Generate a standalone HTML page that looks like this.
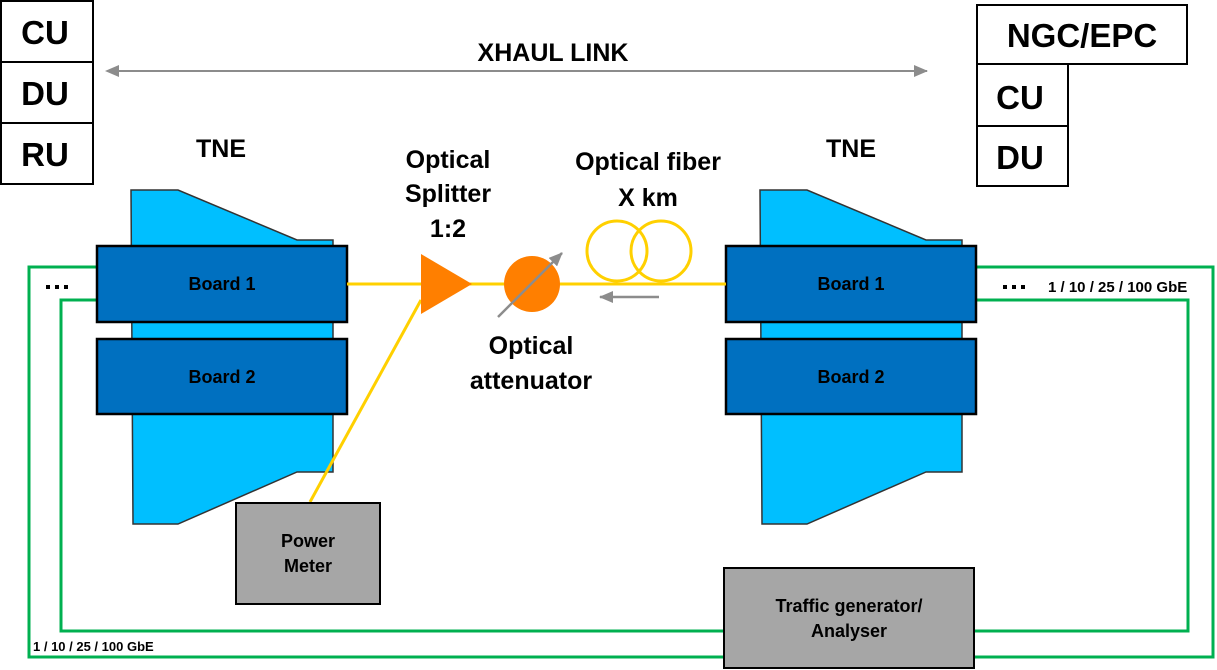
<!DOCTYPE html>
<html><head><style>body{margin:0;background:#fff}svg{display:block}text{font-family:"Liberation Sans",Arial,sans-serif;font-weight:bold;fill:#000}</style></head>
<body>
<svg width="1217" height="670" viewBox="0 0 1217 670" xmlns="http://www.w3.org/2000/svg">
<defs><marker id="ah" markerWidth="14" markerHeight="12" refX="13" refY="6" orient="auto" markerUnits="userSpaceOnUse"><path d="M0,0 L14,6 L0,12 Z" fill="#8c8c8c"/></marker></defs>
<g fill="#fff" stroke="#000" stroke-width="2">
<rect x="1" y="1" width="92" height="61"/><rect x="1" y="62" width="92" height="61"/><rect x="1" y="123" width="92" height="61"/>
<rect x="977" y="5" width="210" height="59"/><rect x="977" y="64" width="91" height="62"/><rect x="977" y="126" width="91" height="60"/>
</g>
<g font-size="33" text-anchor="middle"><text x="45" y="44">CU</text><text x="45" y="105">DU</text><text x="45" y="166">RU</text>
<text x="1082" y="47">NGC/EPC</text><text x="1020" y="109">CU</text><text x="1020" y="169">DU</text></g>
<line x1="118" y1="71" x2="927" y2="71" stroke="#8c8c8c" stroke-width="2" marker-end="url(#ah)"/>
<path d="M105,71 L119,65 L119,77 Z" fill="#8c8c8c"/>
<text x="553" y="61" font-size="25" text-anchor="middle">XHAUL LINK</text>
<g font-size="25" text-anchor="middle"><text x="221" y="157">TNE</text><text x="851" y="157">TNE</text>
<text x="448" y="168">Optical</text><text x="448" y="202">Splitter</text><text x="448" y="237">1:2</text>
<text x="648" y="170">Optical fiber</text><text x="648" y="206">X km</text>
<text x="531" y="354">Optical</text><text x="531" y="389">attenuator</text></g>
<g fill="none" stroke="#00b050" stroke-width="3">
<polyline points="97,267 29,267 29,657 1213,657 1213,267 976,267"/>
<polyline points="97,300 61,300 61,631 1188,631 1188,300 976,300"/>
</g>
<g fill="#00bfff" stroke="#333" stroke-width="1.5">
<path d="M131,190 L178,190 L297,240 L333,240 L333,472 L297,472 L178,524 L133,524 Z"/>
<path d="M760,190 L807,190 L926,240 L962,240 L962,472 L926,472 L807,524 L762,524 Z"/>
</g>
<g fill="#0070c0" stroke="#000" stroke-width="2.5">
<rect x="97" y="246" width="250" height="76"/><rect x="97" y="339" width="250" height="75"/>
<rect x="726" y="246" width="250" height="76"/><rect x="726" y="339" width="250" height="75"/>
</g>
<g font-size="18" text-anchor="middle"><text x="222" y="290">Board 1</text><text x="222" y="383">Board 2</text>
<text x="851" y="290">Board 1</text><text x="851" y="383">Board 2</text></g>
<g fill="#000"><rect x="46" y="285" width="4" height="4"/><rect x="55" y="285" width="4" height="4"/><rect x="64" y="285" width="4" height="4"/>
<rect x="1003" y="285" width="4" height="4"/><rect x="1012" y="285" width="4" height="4"/><rect x="1021" y="285" width="4" height="4"/></g>
<text x="1048" y="292" font-size="15">1 / 10 / 25 / 100 GbE</text>
<text x="33" y="651" font-size="13">1 / 10 / 25 / 100 GbE</text>
<g stroke="#ffd000" stroke-width="3" fill="none">
<line x1="347" y1="284" x2="726" y2="284"/><line x1="421" y1="300" x2="310" y2="502"/>
<circle cx="617" cy="251" r="30"/><circle cx="661" cy="251" r="30"/>
</g>
<path d="M421,254 L472,284 L421,314 Z" fill="#ff7f00"/>
<circle cx="532" cy="284" r="28" fill="#ff7f00"/>
<line x1="498" y1="317" x2="562" y2="253" stroke="#8c8c8c" stroke-width="2.5" marker-end="url(#ah)"/>
<line x1="659" y1="297" x2="600" y2="297" stroke="#8c8c8c" stroke-width="2.5" marker-end="url(#ah)"/>
<g fill="#a6a6a6" stroke="#000" stroke-width="2">
<rect x="236" y="503" width="144" height="101"/><rect x="724" y="568" width="250" height="100"/>
</g>
<g font-size="18" text-anchor="middle"><text x="308" y="547">Power</text><text x="308" y="572">Meter</text>
<text x="849" y="612">Traffic generator/</text><text x="849" y="637">Analyser</text></g>
</svg>
</body></html>
